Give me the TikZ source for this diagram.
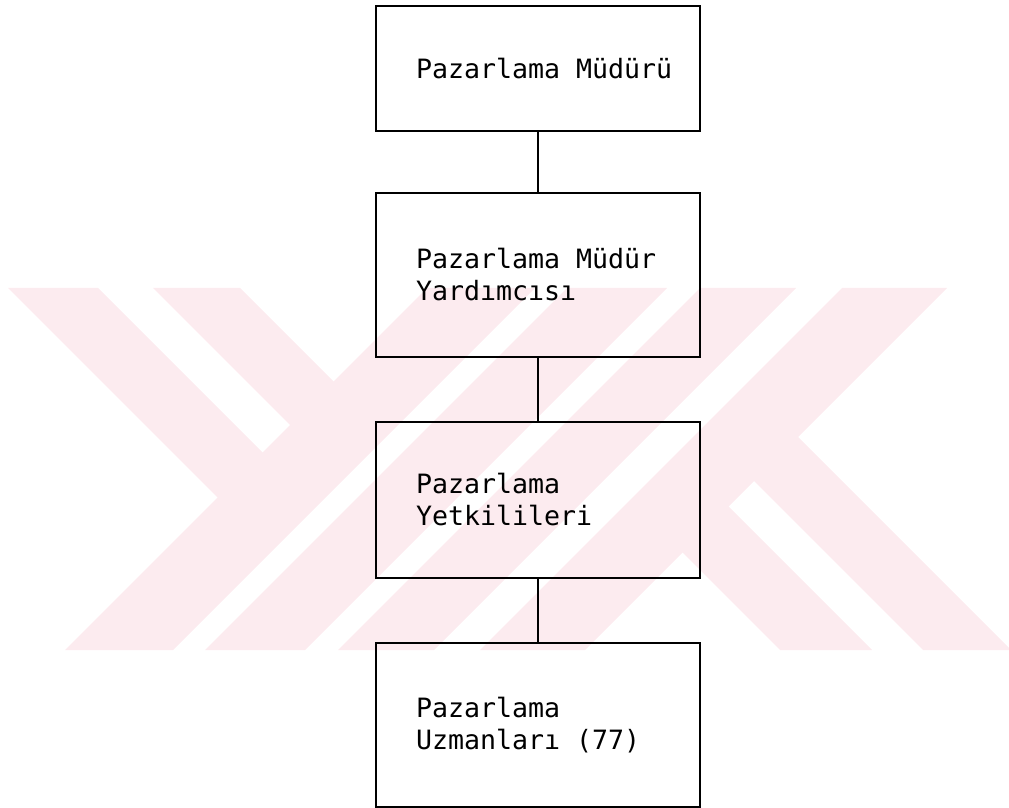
\documentclass[tikz,border=0pt]{standalone}
\usepackage{fontspec}
\newfontfamily\printerfont{DejaVu Sans Mono}
\newcommand\printertype{\printerfont\fontsize{13.3}{16}\selectfont
  \fontdimen2\font=0.602em \fontdimen3\font=0pt \fontdimen4\font=0pt}
\definecolor{logopink}{RGB}{252,235,239}

\tikzset{
  unit/.style={draw, line width=0.8pt, minimum width=162pt, text width=122pt,
               align=flush left, font=\printertype},
  link/.style={line width=0.6pt},
}

\begin{document}
\begin{tikzpicture}[x=0.5pt, y=-0.5pt] % pixel grid, y going down
  \useasboundingbox (0,0) rectangle (1009,808);

  % watermark behind the chart
  \begin{scope}
    \clip (0,288) rectangle (1009,650);
    \fill[logopink] (65,650) -- (173,650) -- (535,288) -- (427,288) -- cycle;
    \fill[logopink] (205,650) -- (305,650) -- (667,288) -- (567,288) -- cycle;
    \fill[logopink] (338,650) -- (434,650) -- (796,288) -- (700,288) -- cycle;
    \fill[logopink] (480,650) -- (585,650) -- (947,288) -- (842,288) -- cycle;
    \fill[logopink] (8,288) -- (98,288) -- (265,455) -- (220,500) -- cycle;
    \fill[logopink] (153,288) -- (240,288) -- (336,384) -- (292.5,427.5) -- cycle;
    \fill[logopink] (680,550) -- (726,504) -- (872,650) -- (780,650) -- cycle;
    \fill[logopink] (751.5,478.5) -- (795.5,434.5) -- (1011,650) -- (923,650) -- cycle;
  \end{scope}

  \node[unit, minimum height=62.5pt] (mudur) at (538,68.5) {Pazarlama~Müdürü};
  \node[unit, minimum height=82pt] (yardimci) at (538,275) {Pazarlama Müdür\\Yardımcısı};
  \node[unit, minimum height=78pt] (yetkili) at (538,500) {Pazarlama\\Yetkilileri};
  \node[unit, minimum height=82pt] (uzman) at (538,725) {Pazarlama\\Uzmanları (77)};

  \draw[link] (mudur) -- (yardimci);
  \draw[link] (yardimci) -- (yetkili);
  \draw[link] (yetkili) -- (uzman);

\end{tikzpicture}
\end{document}
